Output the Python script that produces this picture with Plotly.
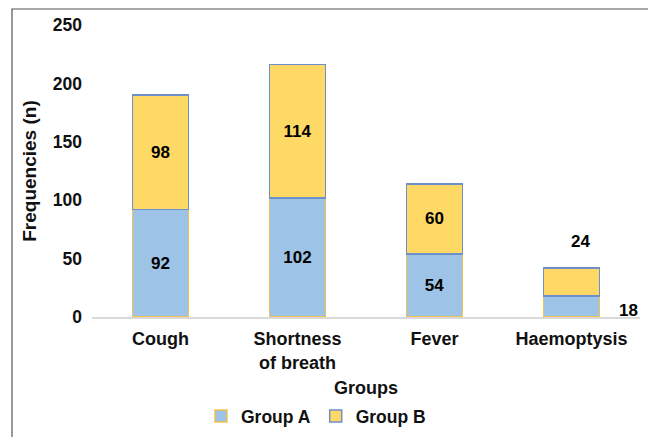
import plotly.graph_objects as go

categories = ["Cough", "Shortness<br>of breath", "Fever", "Haemoptysis"]
group_a = [92, 102, 54, 18]
group_b = [98, 114, 60, 24]
y_ticks = [0, 50, 100, 150, 200, 250]

FONT = "Liberation Sans, Arial, sans-serif"
inside_a = [str(v) if i < 3 else "" for i, v in enumerate(group_a)]
inside_b = [str(v) if i < 3 else "" for i, v in enumerate(group_b)]

fig = go.Figure()
fig.add_trace(go.Bar(
    name="<b>Group A</b>", x=categories, y=group_a,
    marker=dict(color="#9DC3E6", line=dict(color="#F2C14E", width=1.5)),
    text=inside_a, textposition="inside", insidetextanchor="middle",
    textfont=dict(family=FONT, size=17, color="#000000", weight="bold"),
    width=0.41,
))
fig.add_trace(go.Bar(
    name="<b>Group B</b>", x=categories, y=group_b,
    marker=dict(color="#FFD966", line=dict(color="#6E8FC9", width=1.5)),
    text=inside_b, textposition="inside", insidetextanchor="middle",
    textfont=dict(family=FONT, size=17, color="#000000", weight="bold"),
    width=0.41,
))

# outside labels for Haemoptysis
fig.add_annotation(x=categories[3], y=group_a[3] + group_b[3], text="<b>%d</b>" % group_b[3],
                   showarrow=False, yshift=26, xshift=9,
                   font=dict(family=FONT, size=17, color="#000000"))
fig.add_annotation(x=categories[3], y=0, text="<b>%d</b>" % group_a[3],
                   showarrow=False, yshift=7, xshift=57,
                   font=dict(family=FONT, size=17, color="#000000"))

# outer border
fig.add_shape(type="rect", xref="paper", yref="paper",
              x0=-0.146, x1=1.0237, y0=-0.45, y1=1.0548,
              line=dict(color="#555555", width=1.2), fillcolor="rgba(0,0,0,0)")

fig.update_layout(
    width=656, height=437,
    margin=dict(l=84, r=24, t=17, b=128, autoexpand=False),
    barmode="stack",
    plot_bgcolor="white", paper_bgcolor="white",
    font=dict(family=FONT, size=17, color="#111111"),
    showlegend=True,
    legend=dict(orientation="h", x=0.4695, xanchor="center", y=0.066, yanchor="middle",
                xref="container", yref="container",
                font=dict(family=FONT, size=17.5, color="#111111"), traceorder="normal",
                itemwidth=30),
    xaxis=dict(
        automargin=False,
        showline=True, linecolor="#D9D9D9", linewidth=1.5, showgrid=False, ticks="",
        tickfont=dict(family=FONT, size=18, color="#111111", weight="bold"),
        ticklabelstandoff=5,
        title=dict(text="<b>Groups</b>", font=dict(family=FONT, size=18, color="#111111"), standoff=15),
    ),
    yaxis=dict(
        automargin=False,
        range=[0, 250], tickvals=y_ticks, showgrid=False, showline=False, zeroline=False, ticks="",
        tickfont=dict(family=FONT, size=17.5, color="#111111", weight="bold"),
        ticklabelstandoff=9,
        title=dict(text="<b>Frequencies (n)</b>", font=dict(family=FONT, size=19, color="#111111"), standoff=11),
    ),
)

fig.write_html("out.html")
